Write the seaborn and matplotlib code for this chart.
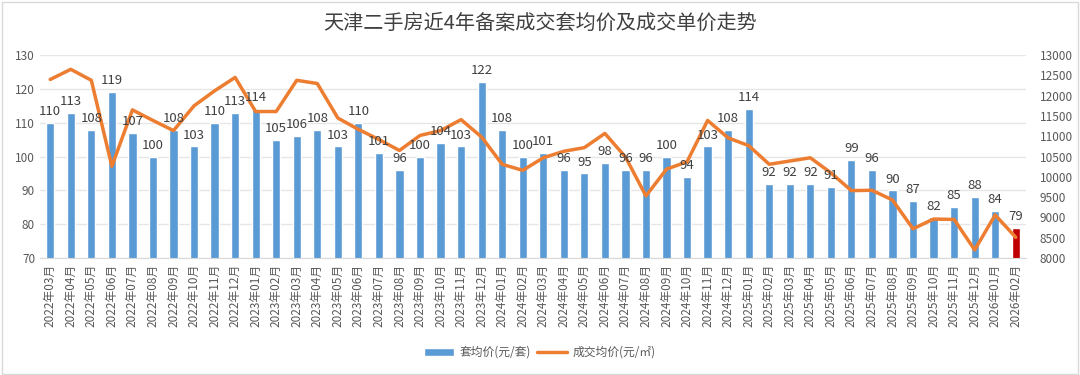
import numpy as np
import seaborn as sns
from matplotlib import pyplot as plt
from matplotlib.patches import Patch, Rectangle
from matplotlib.lines import Line2D

months = [
    "2022年03月", "2022年04月", "2022年05月", "2022年06月", "2022年07月", "2022年08月",
    "2022年09月", "2022年10月", "2022年11月", "2022年12月",
    "2023年01月", "2023年02月", "2023年03月", "2023年04月", "2023年05月", "2023年06月",
    "2023年07月", "2023年08月", "2023年09月", "2023年10月", "2023年11月", "2023年12月",
    "2024年01月", "2024年02月", "2024年03月", "2024年04月", "2024年05月", "2024年06月",
    "2024年07月", "2024年08月", "2024年09月", "2024年10月", "2024年11月", "2024年12月",
    "2025年01月", "2025年02月", "2025年03月", "2025年04月", "2025年05月", "2025年06月",
    "2025年07月", "2025年08月", "2025年09月", "2025年10月", "2025年11月", "2025年12月",
    "2026年01月", "2026年02月",
]
# 套均价 (万元/套)
unit_price = [
    110, 113, 108, 119, 107, 100, 108, 103, 110, 113,
    114, 105, 106, 108, 103, 110, 101, 96, 100, 104, 103, 122,
    108, 100, 101, 96, 95, 98, 96, 96, 100, 94, 103, 108,
    114, 92, 92, 92, 91, 99, 96, 90, 87, 82, 85, 88,
    84, 79,
]
# 成交均价 (元/㎡)
sqm_price = [
    12400, 12650, 12380, 10260, 11650, 11390, 11140, 11750, 12120, 12450,
    11610, 11610, 12380, 12300, 11450, 11170, 10920, 10650, 11020, 11140, 11410, 10980,
    10310, 10160, 10470, 10630, 10720, 11070, 10490, 9530, 10190, 10370, 11390, 10960,
    10770, 10310, 10390, 10470, 10100, 9660, 9670, 9430, 8720, 8960, 8950, 8200,
    9060, 8510,
]

blue = "#5B9BD5"
red = "#C00000"
orange = "#ED7D31"
grey = "#595959"

sns.set_style("white")
plt.rcParams["font.family"] = ["Noto Sans CJK SC", "DejaVu Sans"]

fig = plt.figure(figsize=(10.8, 3.75), dpi=100)
ax = fig.add_axes([0.037, 0.312, 0.913, 0.541])

sns.barplot(x=months, y=unit_price, color=blue, width=0.4, ax=ax, saturation=1)
ax.patches[-1].set_facecolor(red)

ax.set_ylim(70, 130)
ax.set_yticks(range(70, 131, 10))
ax.set_xlim(-0.5, len(months) - 0.5)
ax.yaxis.grid(True, color="#E6E6E6", linewidth=1)
ax.set_axisbelow(True)
for s in ["top", "right", "left"]:
    ax.spines[s].set_visible(False)
ax.spines["bottom"].set_color("#D9D9D9")
ax.tick_params(axis="x", rotation=90, labelsize=8.5, colors=grey, length=0, pad=4)
ax.tick_params(axis="y", labelsize=8.5, colors=grey, length=0)

ax2 = ax.twinx()
sns.lineplot(x=np.arange(len(months)), y=sqm_price, color=orange, linewidth=2.5, ax=ax2)
ax2.set_ylim(8000, 13000)
ax2.set_yticks(range(8000, 13001, 500))
ax2.tick_params(axis="y", labelsize=8.5, colors=grey, length=0, pad=10)
for s in ["top", "right", "left", "bottom"]:
    ax2.spines[s].set_visible(False)
ax2.grid(False)

# bar labels drawn on ax2 so they sit above the line
for i, v in enumerate(unit_price):
    ax2.annotate(f"{v}", xy=(i, v), xycoords=ax.transData,
                 xytext=(0, 3.5), textcoords="offset points", ha="center", va="bottom",
                 fontsize=9.5, color="#404040")

fig.suptitle("天津二手房近4年备案成交套均价及成交单价走势", y=0.965, fontsize=14.5, color="#404040")

handles = [Patch(facecolor=blue), Line2D([0], [0], color=orange, linewidth=2.5)]
fig.legend(handles, ["套均价(元/套)", "成交均价(元/㎡)"], loc="center", bbox_to_anchor=(0.5, 0.06),
           ncol=2, frameon=False, fontsize=8.5, labelcolor=grey, handlelength=2.5, columnspacing=0.5,
           handletextpad=0.5)

fig.patches.append(Rectangle((0.002, 0.004), 0.996, 0.992, transform=fig.transFigure,
                             fill=False, edgecolor="#D9D9D9", linewidth=1))

fig.savefig("out.png", dpi=100)
